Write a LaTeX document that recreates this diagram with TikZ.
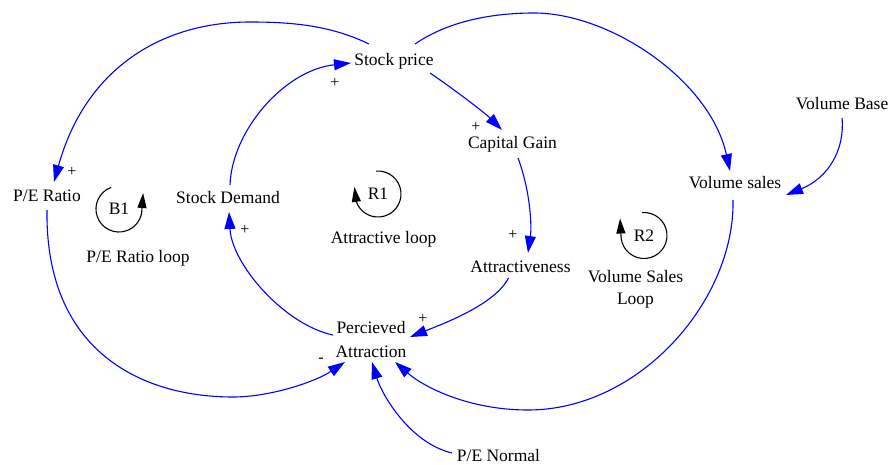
\documentclass[tikz,border=0pt]{standalone}
\usepackage{fontspec}
\setmainfont{Liberation Serif}
\usetikzlibrary{arrows.meta,calc}
\begin{document}
\begin{tikzpicture}[x=1pt,y=-1pt,
  lbl/.style={inner sep=0pt, text height=11.6pt, text depth=0pt, font=\fontsize{17.5}{24}\selectfont},
  ml/.style={inner sep=0pt, align=center, font=\fontsize{17.5}{24}\selectfont},
  mlv/.style={inner sep=0pt, align=center, font=\fontsize{17.5}{22}\selectfont},
  pol/.style={inner sep=0pt, font=\fontsize{16}{18}\selectfont},
  link/.style={draw=blue, line width=1.1pt, -{Triangle[length=17pt,width=11pt]}},
  loopar/.style={draw=black, line width=1.1pt, -{Triangle[length=15pt,width=9pt]}},
]
\useasboundingbox (0,0) rectangle (890,465);
\fill[white] (0,0) rectangle (890,465);

% variables
\node[lbl] (sp) at (394,60) {Stock price};
\node[lbl] (cg) at (512.5,143) {Capital Gain};
\node[lbl] (pe) at (47,196) {P/E Ratio};
\node[lbl] (sd) at (228,198) {Stock Demand};
\node[lbl] (vs) at (735,183) {Volume sales};
\node[lbl] (vb) at (842,104) {Volume Base};
\node[lbl] (at) at (520.5,267) {Attractiveness};
\node[ml] (pa) at (371,340) {Percieved\\Attraction};
\node[lbl] (pn) at (498.5,456) {P/E Normal};

% loop labels
\node[lbl] (b1) at (119,209) {B1};
\node[lbl] (r1) at (378,194) {R1};
\node[lbl] (r2) at (644,235.5) {R2};
\node[lbl] (b1n) at (138,257) {P/E Ratio loop};
\node[lbl] (r1n) at (383.5,238) {Attractive loop};
\node[mlv] (r2n) at (635.5,289.7) {Volume Sales\\Loop};

% loop symbols
\draw[loopar] ($(b1)+(-7.9,-21.6)$) arc[start angle=-110, end angle=-350, radius=23] -- ++(1.5,-20);
\draw[loopar] ($(r1)+(-2,-22.9)$) arc[start angle=-95, end angle=160, radius=23] -- ++(-2,-15);
\draw[loopar] ($(r2)+(-2,-22.9)$) arc[start angle=-95, end angle=175, radius=23] -- ++(-1,-19);

% links
\draw[link] ($(sp)+(36,13)$) .. controls (455,90) and (485,113) .. ($(cg)+(-10.5,-13)$);
\draw[link] ($(cg)+(5.5,15)$) .. controls (530,190) and (532,225) .. ($(at)+(7.5,-14)$);
\draw[link] ($(at)+(-12,11)$) .. controls (495,305) and (440,325) .. ($(pa)+(39,-3)$);
\draw[link] ($(pa)+(-38,-5)$) .. controls (285,325) and (232,265) .. ($(sd)+(1,14)$);
\draw[link] ($(sd)+(2,-13)$) .. controls (232,130) and (285,70) .. ($(sp)+(-43,3)$);
\draw[link] ($(sp)+(-25,-16)$) .. controls (330,25) and (290,22) .. (250,22)
            .. controls (160,22) and (85,70) .. ($(pe)+(7,-14)$);
\draw[link] ($(pe)+(0,14)$) .. controls (45,350) and (140,397) .. (233,397)
            .. controls (270,397) and (315,382) .. ($(pa)+(-26,22)$);
\draw[link] ($(sp)+(21,-16)$) .. controls (450,20) and (495,13) .. (534,13)
            .. controls (610,13) and (710,80) .. ($(vs)+(-5,-12)$);
\draw[link] ($(vb)+(0,14)$) .. controls (845,150) and (828,178) .. ($(vs)+(51,12)$);
\draw[link] ($(vs)+(-2,17)$) .. controls (735,300) and (640,410) .. (528,410)
            .. controls (470,410) and (425,388) .. ($(pa)+(24,22)$);
\draw[link] ($(pn)+(-46.5,-3)$) .. controls (410,443) and (382,395) .. ($(pa)+(1,22)$);

% polarities
\node[pol] (p1) at (476,127) {+};
\node[pol] (p2) at (513,235) {+};
\node[pol] (p3) at (423,319) {+};
\node[pol] (p4) at (245,230) {+};
\node[pol] (p5) at (335,83) {+};
\node[pol] (p6) at (72,172) {+};
\node[pol] (p7) at (321,360) {-};
\end{tikzpicture}
\end{document}
